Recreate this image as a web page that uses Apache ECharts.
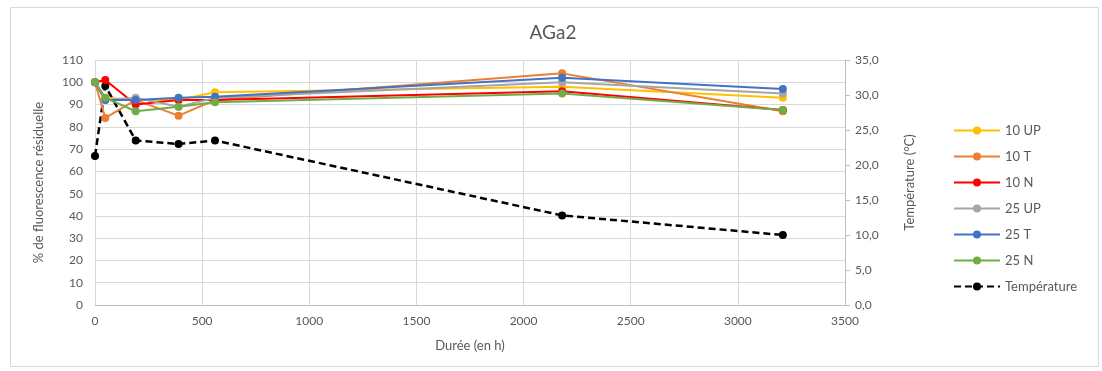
<!DOCTYPE html>
<html><head><meta charset="utf-8">
<script src="https://cdn.jsdelivr.net/npm/echarts@6/dist/echarts.min.js"></script>
<style>html,body{margin:0;padding:0;background:#fff}#c{width:1102px;height:371px}</style>
</head><body><div id="c"></div>
<script>
const durations = [0, 48, 190, 390, 560, 2180, 3210];
const s10UP = [100, 93, 92, 92, 95.5, 98, 93];
const s10T  = [100, 84, 92, 85, 92, 104, 87];
const s10N  = [100, 101, 90, 92, 92, 96, 87.5];
const s25UP = [100, 92, 93, 89, 93, 100, 95];
const s25T  = [100, 92, 92, 93, 93.5, 102, 97];
const s25N  = [100, 93, 87, 89, 91, 95, 87.5];
const temperature = [21.3, 31.3, 23.5, 23.0, 23.5, 12.8, 10.0];
const seriesNames = ['10 UP', '10 T', '10 N', '25 UP', '25 T', '25 N', 'Température'];
const colors = ['#FFC000', '#ED7D31', '#FF0000', '#A5A5A5', '#4472C4', '#70AD47', '#000000'];

const FONT = 'Lato, "Open Sans", sans-serif';
const TXT = '#595959';
const pair = arr => durations.map((d, i) => [d, arr[i]]);
const data = [s10UP, s10T, s10N, s25UP, s25T, s25N];

const series = data.map((arr, i) => ({
  name: seriesNames[i], type: 'line', yAxisIndex: 0, data: pair(arr),
  symbol: 'circle', symbolSize: 8, color: colors[i],
  lineStyle: { width: 2, color: colors[i] }, itemStyle: { color: colors[i] }
}));
series.push({
  name: seriesNames[6], type: 'line', yAxisIndex: 1, data: pair(temperature),
  symbol: 'circle', symbolSize: 8, color: colors[6],
  lineStyle: { width: 2.5, type: [7, 4], color: colors[6] }, itemStyle: { color: colors[6] }, z: 1
});

const chart = echarts.init(document.getElementById('c'), null, { renderer: 'canvas' });
chart.setOption({
  animation: false,
  textStyle: { fontFamily: FONT },
  graphic: [{ type: 'rect', left: 8, top: 5, shape: { width: 1088, height: 359 },
    style: { fill: 'none', stroke: '#D9D9D9', lineWidth: 1 } }],
  title: { text: 'AGa2', left: 548, textAlign: 'center', top: 18,
    textStyle: { fontFamily: FONT, fontSize: 19, fontWeight: 'normal', color: TXT } },
  legend: {
    orient: 'vertical', left: 948, top: 119, itemWidth: 46, itemHeight: 10, itemGap: 13,
    data: seriesNames,
    textStyle: { fontFamily: FONT, fontSize: 13, color: TXT }
  },
  grid: { left: 95, right: 257, top: 60, bottom: 66 },
  xAxis: {
    type: 'value', min: 0, max: 3500, interval: 500,
    name: 'Durée (en h)', nameLocation: 'middle', nameGap: 34,
    nameTextStyle: { fontFamily: FONT, fontSize: 13, color: TXT },
    axisLine: { show: true, lineStyle: { color: '#BFBFBF' } },
    axisTick: { show: false },
    axisLabel: { fontFamily: FONT, fontSize: 12, color: TXT, margin: 10, formatter: v => String(v) },
    splitLine: { show: true, lineStyle: { color: '#D9D9D9' } }
  },
  yAxis: [{
    type: 'value', min: 0, max: 110, interval: 10,
    name: '% de fluorescence résiduelle', nameLocation: 'middle', nameGap: 50, nameRotate: 90,
    nameTextStyle: { fontFamily: FONT, fontSize: 13, color: TXT },
    axisLine: { show: false }, axisTick: { show: false },
    axisLabel: { fontFamily: FONT, fontSize: 12, color: TXT, margin: 12 },
    splitLine: { show: true, lineStyle: { color: '#D9D9D9' } }
  }, {
    type: 'value', min: 0, max: 35, interval: 5, position: 'right',
    name: 'Température (°C)', nameLocation: 'middle', nameGap: 58, nameRotate: 90,
    nameTextStyle: { fontFamily: FONT, fontSize: 13, color: TXT },
    axisLine: { show: true, lineStyle: { color: '#BFBFBF' } },
    axisTick: { show: true, length: 5, lineStyle: { color: '#BFBFBF' } },
    axisLabel: { fontFamily: FONT, fontSize: 12, color: TXT, margin: 10,
      formatter: v => v.toFixed(1).replace('.', ',') },
    splitLine: { show: false }
  }],
  series: series
});
</script>
</body></html>
